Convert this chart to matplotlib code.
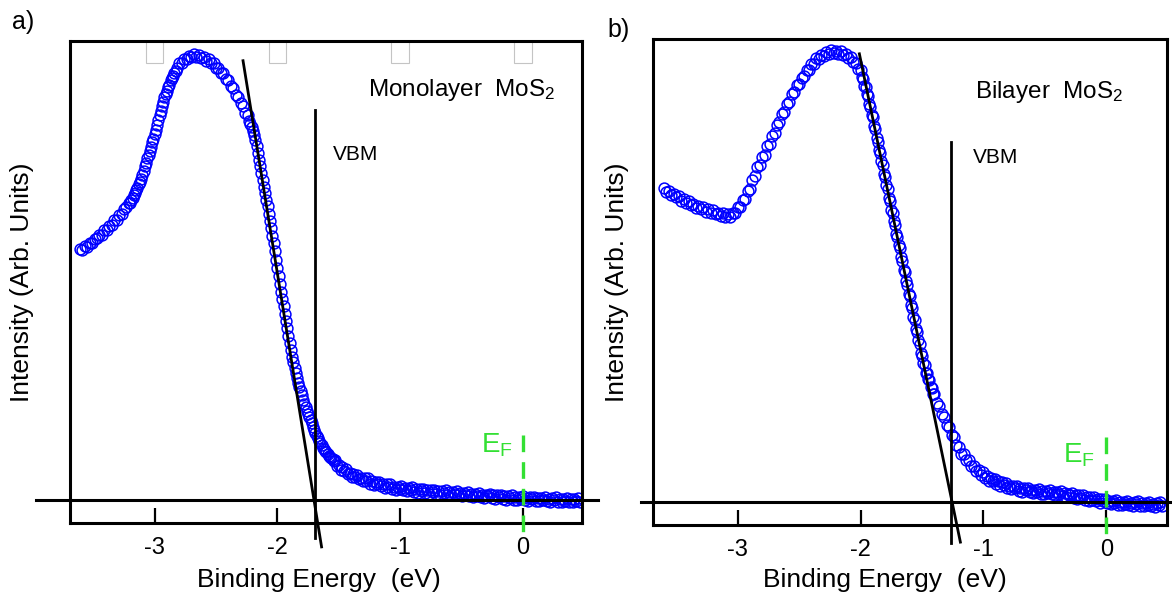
#!/usr/bin/env python3
import matplotlib

matplotlib.use("Agg")
import matplotlib.pyplot as plt
import matplotlib.transforms as mtransforms
from matplotlib.patches import Rectangle

plt.rcParams["font.family"] = ["Liberation Sans", "DejaVu Sans"]
plt.rcParams["mathtext.fontset"] = "custom"
plt.rcParams["mathtext.rm"] = "Liberation Sans"
plt.rcParams["mathtext.default"] = "regular"
plt.rcParams["axes.unicode_minus"] = False

# ---- data (eV, arb. units, baseline = 0) ----
TICKS = [-3, -2, -1, 0]
TICK_LABELS = ["-3", "-2", "-1", "0"]

energy_mono = [
    -3.61, -3.59, -3.57, -3.55, -3.53, -3.51, -3.49, -3.47, -3.45, -3.43,
    -3.41, -3.39, -3.37, -3.35, -3.33, -3.31, -3.29, -3.27, -3.25, -3.23,
    -3.21, -3.20, -3.19, -3.18, -3.17, -3.16, -3.15, -3.14, -3.13, -3.12,
    -3.11, -3.10, -3.09, -3.08, -3.07, -3.06, -3.05, -3.04, -3.03, -3.02,
    -3.01, -3.00, -2.99, -2.98, -2.97, -2.96, -2.95, -2.94, -2.93, -2.92,
    -2.91, -2.90, -2.89, -2.88, -2.87, -2.86, -2.85, -2.84, -2.83, -2.82,
    -2.80, -2.78, -2.76, -2.74, -2.72, -2.70, -2.68, -2.66, -2.64, -2.62,
    -2.60, -2.58, -2.56, -2.54, -2.52, -2.50, -2.48, -2.46, -2.44, -2.42,
    -2.40, -2.38, -2.36, -2.34, -2.32, -2.30, -2.28, -2.26, -2.24,
    -2.23, -2.22, -2.21, -2.20, -2.19, -2.18, -2.17, -2.16, -2.15, -2.14,
    -2.13, -2.12, -2.11, -2.10, -2.09, -2.08, -2.07, -2.06, -2.05, -2.04,
    -2.03, -2.02, -2.01, -2.00, -1.99, -1.98, -1.97, -1.96, -1.95, -1.94,
    -1.93, -1.92, -1.91, -1.90, -1.89, -1.88, -1.87, -1.86, -1.85, -1.84,
    -1.83, -1.82, -1.81, -1.80, -1.79, -1.78, -1.77, -1.76, -1.75, -1.74,
    -1.73, -1.72, -1.71, -1.70, -1.69, -1.68, -1.67, -1.66, -1.65, -1.64,
    -1.63, -1.62, -1.61, -1.60, -1.59, -1.58, -1.57, -1.56, -1.55, -1.54,
    -1.530, -1.515, -1.500, -1.485, -1.470, -1.455, -1.440, -1.425, -1.410,
    -1.395, -1.380, -1.365, -1.350, -1.335, -1.320, -1.305, -1.290, -1.275,
    -1.260, -1.245, -1.230, -1.215, -1.200, -1.185, -1.170, -1.155, -1.140,
    -1.125, -1.110, -1.095, -1.080, -1.065, -1.050, -1.035, -1.020, -1.005,
    -0.990, -0.975, -0.960, -0.945, -0.930, -0.915, -0.900, -0.885, -0.870,
    -0.855, -0.840, -0.825, -0.810, -0.795, -0.780, -0.765, -0.750, -0.735,
    -0.720, -0.705, -0.690, -0.675, -0.660, -0.645, -0.630, -0.615, -0.600,
    -0.585, -0.570, -0.555, -0.540, -0.525, -0.510, -0.495, -0.480, -0.465,
    -0.450, -0.435, -0.420, -0.405, -0.390, -0.375, -0.360, -0.345, -0.330,
    -0.315, -0.300, -0.285, -0.270, -0.255, -0.240, -0.225, -0.210, -0.195,
    -0.180, -0.165, -0.150, -0.135, -0.120, -0.105, -0.090, -0.075, -0.060,
    -0.045, -0.030, -0.015, 0.000, 0.015, 0.030, 0.045, 0.060, 0.075,
    0.090, 0.105, 0.120, 0.135, 0.150, 0.165, 0.180, 0.195, 0.210,
    0.225, 0.240, 0.255, 0.270, 0.285, 0.300, 0.315, 0.330, 0.345,
    0.360, 0.375, 0.390, 0.405, 0.420, 0.435, 0.450, 0.465,
]
intensity_mono = [
    0.547, 0.545, 0.554, 0.552, 0.560, 0.561, 0.568, 0.570, 0.577, 0.578,
    0.588, 0.589, 0.597, 0.600, 0.609, 0.611, 0.621, 0.624, 0.634, 0.638,
    0.646, 0.648, 0.654, 0.657, 0.664, 0.668, 0.675, 0.680, 0.688, 0.693,
    0.700, 0.709, 0.717, 0.728, 0.735, 0.745, 0.752, 0.761, 0.768, 0.779,
    0.786, 0.797, 0.806, 0.818, 0.827, 0.838, 0.847, 0.858, 0.866, 0.877,
    0.885, 0.891, 0.900, 0.905, 0.914, 0.920, 0.923, 0.931, 0.934, 0.941,
    0.951, 0.952, 0.961, 0.960, 0.967, 0.965, 0.971, 0.966, 0.969, 0.963,
    0.965, 0.957, 0.960, 0.951, 0.952, 0.941, 0.942, 0.930, 0.930, 0.917,
    0.914, 0.901, 0.898, 0.883, 0.878, 0.864, 0.858, 0.843, 0.838,
    0.826, 0.820, 0.813, 0.803, 0.795, 0.785, 0.772, 0.756, 0.741, 0.727,
    0.712, 0.697, 0.683, 0.669, 0.654, 0.640, 0.624, 0.608, 0.592, 0.576,
    0.560, 0.542, 0.524, 0.506, 0.488, 0.470, 0.454, 0.438, 0.422, 0.406,
    0.390, 0.374, 0.358, 0.342, 0.327, 0.312, 0.300, 0.288, 0.277, 0.266,
    0.255, 0.246, 0.237, 0.228, 0.219, 0.210, 0.203, 0.195, 0.188, 0.181,
    0.174, 0.167, 0.160, 0.153, 0.147, 0.140, 0.135, 0.129, 0.124, 0.119,
    0.114, 0.111, 0.107, 0.104, 0.100, 0.097, 0.094, 0.091, 0.089, 0.086,
    0.087, 0.074, 0.077, 0.066, 0.071, 0.064, 0.067, 0.056, 0.060,
    0.051, 0.057, 0.051, 0.055, 0.045, 0.049, 0.041, 0.048, 0.042,
    0.047, 0.036, 0.041, 0.033, 0.040, 0.035, 0.040, 0.030, 0.035,
    0.027, 0.034, 0.029, 0.034, 0.024, 0.029, 0.022, 0.029, 0.025,
    0.030, 0.021, 0.026, 0.019, 0.027, 0.022, 0.028, 0.018, 0.024,
    0.016, 0.024, 0.020, 0.025, 0.016, 0.022, 0.014, 0.022, 0.018,
    0.023, 0.014, 0.020, 0.012, 0.020, 0.015, 0.021, 0.012, 0.017,
    0.010, 0.018, 0.013, 0.019, 0.010, 0.015, 0.008, 0.016, 0.011,
    0.017, 0.008, 0.013, 0.006, 0.014, 0.009, 0.015, 0.006, 0.012,
    0.004, 0.012, 0.008, 0.013, 0.004, 0.010, 0.003, 0.010, 0.006,
    0.012, 0.003, 0.009, 0.001, 0.009, 0.005, 0.011, 0.001, 0.007,
    0.000, 0.007, 0.003, 0.009, 0.000, 0.005, -0.002, 0.006, 0.002,
    0.007, -0.002, 0.004, -0.003, 0.005, 0.001, 0.006, -0.003, 0.003,
    -0.004, 0.004, 0.000, 0.006, -0.004, 0.002, -0.005, 0.003, -0.001,
    0.005, -0.004, 0.002, -0.005, 0.002, -0.002, 0.004, -0.005,
]

energy_bi = [
    -3.60, -3.58, -3.56, -3.54, -3.52, -3.50, -3.48, -3.46, -3.44, -3.42,
    -3.40, -3.38, -3.36, -3.34, -3.32, -3.30, -3.28, -3.26, -3.24, -3.22,
    -3.20, -3.18, -3.16, -3.14, -3.12, -3.10, -3.08, -3.06, -3.04, -3.02,
    -3.00, -2.98, -2.96, -2.94, -2.92, -2.90, -2.88, -2.86, -2.84, -2.82,
    -2.80, -2.78, -2.76, -2.74, -2.72, -2.70, -2.68, -2.66, -2.64, -2.62,
    -2.60, -2.58, -2.56, -2.54, -2.52, -2.50, -2.48, -2.46, -2.44, -2.42,
    -2.40, -2.38, -2.36, -2.34, -2.32, -2.30, -2.28, -2.26, -2.24, -2.22,
    -2.20, -2.18, -2.16, -2.14, -2.12, -2.10, -2.08, -2.06, -2.04, -2.02,
    -2.00, -1.99, -1.98, -1.97, -1.96, -1.95, -1.94, -1.93, -1.92, -1.91,
    -1.90, -1.89, -1.88, -1.87, -1.86, -1.85, -1.84, -1.83, -1.82, -1.81,
    -1.80, -1.79, -1.78, -1.77, -1.76, -1.75, -1.74, -1.73, -1.72, -1.71,
    -1.70, -1.69, -1.68, -1.67, -1.66, -1.65, -1.64, -1.63, -1.62, -1.61,
    -1.60, -1.59, -1.58, -1.57, -1.56, -1.55, -1.54, -1.53, -1.52, -1.51,
    -1.50, -1.49, -1.48, -1.47, -1.46, -1.45, -1.44, -1.43, -1.42, -1.41,
    -1.40, -1.38, -1.36, -1.34, -1.32, -1.30, -1.28, -1.26, -1.24, -1.22,
    -1.20, -1.18, -1.16, -1.14, -1.12, -1.10, -1.08, -1.06, -1.04, -1.02,
    -1.000, -0.985, -0.970, -0.955, -0.940, -0.925, -0.910, -0.895, -0.880,
    -0.865, -0.850, -0.835, -0.820, -0.805, -0.790, -0.775, -0.760, -0.745,
    -0.730, -0.715, -0.700, -0.685, -0.670, -0.655, -0.640, -0.625, -0.610,
    -0.595, -0.580, -0.565, -0.550, -0.535, -0.520, -0.505, -0.490, -0.475,
    -0.460, -0.445, -0.430, -0.415, -0.400, -0.385, -0.370, -0.355, -0.340,
    -0.325, -0.310, -0.295, -0.280, -0.265, -0.250, -0.235, -0.220, -0.205,
    -0.190, -0.175, -0.160, -0.145, -0.130, -0.115, -0.100, -0.085, -0.070,
    -0.055, -0.040, -0.025, -0.010, 0.005, 0.020, 0.035, 0.050, 0.065,
    0.080, 0.095, 0.110, 0.125, 0.140, 0.155, 0.170, 0.185, 0.200,
    0.215, 0.230, 0.245, 0.260, 0.275, 0.290, 0.305, 0.320, 0.335,
    0.350, 0.365, 0.380, 0.395, 0.410, 0.425, 0.440, 0.455,
]
intensity_bi = [
    0.679, 0.669, 0.671, 0.662, 0.666, 0.658, 0.661, 0.650, 0.655, 0.646,
    0.650, 0.641, 0.643, 0.635, 0.639, 0.632, 0.637, 0.627, 0.633, 0.625,
    0.631, 0.622, 0.625, 0.617, 0.623, 0.616, 0.622, 0.615, 0.625, 0.624,
    0.636, 0.636, 0.652, 0.655, 0.671, 0.676, 0.696, 0.704, 0.724, 0.728,
    0.745, 0.749, 0.768, 0.774, 0.791, 0.796, 0.814, 0.820, 0.839, 0.843,
    0.860, 0.863, 0.882, 0.886, 0.900, 0.902, 0.916, 0.919, 0.934, 0.934,
    0.946, 0.945, 0.958, 0.957, 0.966, 0.963, 0.971, 0.968, 0.976, 0.969,
    0.975, 0.967, 0.974, 0.966, 0.968, 0.958, 0.962, 0.950, 0.949, 0.935,
    0.932, 0.917, 0.914, 0.899, 0.897, 0.882, 0.877, 0.859, 0.853, 0.836,
    0.831, 0.813, 0.806, 0.786, 0.778, 0.760, 0.754, 0.736, 0.727, 0.708,
    0.702, 0.684, 0.677, 0.657, 0.650, 0.631, 0.625, 0.607, 0.598, 0.579,
    0.573, 0.555, 0.548, 0.528, 0.521, 0.502, 0.496, 0.478, 0.469, 0.450,
    0.444, 0.426, 0.419, 0.399, 0.392, 0.373, 0.367, 0.349, 0.340, 0.321,
    0.316, 0.300, 0.296, 0.279, 0.278, 0.266, 0.264, 0.249, 0.246, 0.232,
    0.232, 0.213, 0.207, 0.190, 0.184, 0.166, 0.161, 0.145, 0.141, 0.123,
    0.118, 0.104, 0.103, 0.091, 0.091, 0.078, 0.078, 0.066, 0.069, 0.059,
    0.064, 0.052, 0.056, 0.046, 0.052, 0.046, 0.050, 0.039, 0.044,
    0.035, 0.042, 0.036, 0.041, 0.030, 0.035, 0.027, 0.034, 0.029,
    0.034, 0.024, 0.030, 0.022, 0.029, 0.025, 0.030, 0.021, 0.026,
    0.019, 0.026, 0.022, 0.027, 0.018, 0.024, 0.016, 0.024, 0.020,
    0.025, 0.016, 0.022, 0.015, 0.022, 0.018, 0.023, 0.013, 0.019,
    0.011, 0.018, 0.014, 0.019, 0.009, 0.015, 0.007, 0.014, 0.009,
    0.015, 0.005, 0.010, 0.002, 0.010, 0.005, 0.010, 0.001, 0.006,
    -0.002, 0.006, 0.001, 0.006, -0.003, 0.002, -0.005, 0.002, -0.002,
    0.004, -0.006, 0.000, -0.007, 0.000, -0.004, 0.002, -0.007, -0.002,
    -0.009, -0.001, -0.005, 0.001, -0.009, -0.003, -0.010, -0.002, -0.006,
    0.000, -0.009, -0.004, -0.011, -0.003, -0.007, -0.001, -0.010,
]

tangent_mono_e = [-2.280, -1.640]
tangent_mono_i = [0.957, -0.102]
vbm_mono = -1.695
vbm_mono_span = [0.850, -0.083]

tangent_bi_e = [-2.010, -1.188]
tangent_bi_i = [0.968, -0.087]
vbm_bi = -1.261
vbm_bi_span = [0.777, -0.089]

fermi_level = 0.0

BLUE = "#0000ff"
GREEN = "#33e033"


def draw_panel(ax, energy, intensity, tan_e, tan_i, vbm, vbm_span, xlim,
               sample_label, sample_xy, vbm_xy, ef_xy, ef_span,
               ylabel_x, xlabel_xy, base_ext):
    ax.plot(energy, intensity, "o", mfc="none", mec=BLUE, ms=7.8, mew=1.1,
            zorder=2)
    ax.plot(tan_e, tan_i, color="black", lw=2.0, clip_on=False, zorder=3)
    ax.plot([vbm, vbm], vbm_span, color="black", lw=2.0, clip_on=False,
            zorder=3)
    ax.axhline(0, xmin=base_ext[0], xmax=base_ext[1], color="black", lw=2.2,
               clip_on=False, zorder=4)
    ax.plot([fermi_level, fermi_level], ef_span, color=GREEN, lw=2.4,
            dashes=(5, 3), clip_on=False, zorder=5)

    ax.text(sample_xy[0], sample_xy[1], sample_label, fontsize=17.5,
            ha="left", va="center")
    ax.text(vbm_xy[0], vbm_xy[1], "VBM", fontsize=15, ha="left",
            va="center")
    ax.text(ef_xy[0], ef_xy[1], r"E$_\mathrm{F}$", fontsize=20, color=GREEN,
            ha="right", va="center")

    ax.set_xlim(*xlim)
    ax.set_ylim(-0.05, 1.0)
    ax.set_xticks(TICKS)
    ax.set_xticklabels(TICK_LABELS)
    ax.set_yticks([])
    ax.tick_params(axis="x", direction="in", length=11, width=1.6,
                   labelsize=17, pad=10)
    for spine in ax.spines.values():
        spine.set_linewidth(2.2)

    ax.set_xlabel("Binding Energy  (eV)", fontsize=19, va="center")
    ax.xaxis.set_label_coords(*xlabel_xy)
    ax.set_ylabel("Intensity (Arb. Units)", fontsize=19, va="center")
    ax.yaxis.set_label_coords(ylabel_x, 0.5)


def main():
    fig = plt.figure(figsize=(11.72, 6.0), dpi=100)
    ax_a = fig.add_axes([0.0597, 0.1283, 0.4369, 0.8034])
    ax_b = fig.add_axes([0.5572, 0.1250, 0.4385, 0.8100])

    draw_panel(ax_a, energy_mono, intensity_mono, tangent_mono_e,
               tangent_mono_i, vbm_mono, vbm_mono_span, (-3.69, 0.482),
               "Monolayer  MoS$_2$", (-1.263, 0.893), (-1.548, 0.752),
               (-0.08, 0.12), [0.142, -0.072], -0.094, (0.486, -0.118),
               (-0.066, 1.031))
    draw_panel(ax_b, energy_bi, intensity_bi, tangent_bi_e, tangent_bi_i,
               vbm_bi, vbm_bi_span, (-3.689, 0.493),
               "Bilayer  MoS$_2$", (-1.066, 0.885), (-1.09, 0.743),
               (-0.09, 0.101), [0.140, -0.082], -0.070, (0.452, -0.113),
               (-0.023, 1.02))

    # odd white boxes hanging from the top frame of panel a
    trans = mtransforms.blended_transform_factory(ax_a.transData,
                                                  ax_a.transAxes)
    for t in TICKS:
        ax_a.add_patch(Rectangle((t - 0.072, 0.955), 0.144, 0.045,
                                 transform=trans, facecolor="white",
                                 edgecolor="#c4c4c4", lw=0.8, zorder=1))

    fig.text(12 / 1172, 1 - 22 / 600, "a)", fontsize=18, va="center")
    fig.text(607 / 1172, 1 - 30 / 600, "b)", fontsize=18, va="center")

    fig.savefig("out.png", dpi=100)
    plt.close(fig)


if __name__ == "__main__":
    main()
